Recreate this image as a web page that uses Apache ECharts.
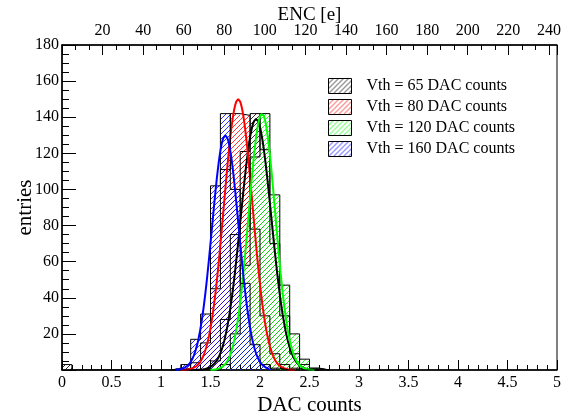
<!DOCTYPE html>
<html>
<head>
<meta charset="utf-8">
<script src="https://cdn.jsdelivr.net/npm/echarts@6/dist/echarts.min.js"></script>
<style>
  html, body { margin: 0; padding: 0; background: #fff; }
  #chart { width: 576px; height: 418px; }
</style>
</head>
<body>
<div id="chart"></div>
<script>
// histogram bins (left edges, width 0.1 DAC)
const binLo = [1.1, 1.2, 1.3, 1.4, 1.5, 1.6, 1.7, 1.8, 1.9, 2.0, 2.1, 2.2, 2.3, 2.4, 2.5, 2.6];
const binWidth = 0.1;

// entries per bin
const counts65 = [0, 0, 0, 1, 5, 28, 75, 121, 142, 122, 70, 30, 9, 3, 1, 0];
const counts80 = [0, 1, 4, 15, 45, 111, 142, 141, 78, 30, 9, 3, 1, 0, 0, 0];
const counts120 = [0, 0, 0, 0, 0, 3, 20, 58, 118, 142, 97, 47, 20, 6, 1, 0];
const counts160 = [1, 3, 17, 31, 102, 142, 100, 48, 14, 3, 1, 0, 0, 0, 0, 0];
// lone bin near zero in the Vth = 65 histogram
const extraBin65 = [0.0, 3];

// gaussian fits: amplitude, mean, sigma, drawn range
const names = ["Vth = 65 DAC counts", "Vth = 80 DAC counts", "Vth = 120 DAC counts", "Vth = 160 DAC counts"];
const colors = ["#000000", "#ff0000", "#00ff00", "#0000ff"];
const fitAmp = [139, 150, 142, 130];
const fitMean = [1.96, 1.78, 2.02, 1.65];
const fitSigma = [0.155, 0.145, 0.135, 0.135];
const fitLo = [1.3, 1.2, 1.5, 1.15];
const fitHi = [2.6, 2.35, 2.55, 2.1];

const yTicks = [0, 20, 40, 60, 80, 100, 120, 140, 160, 180];
const encMax = 244;

function hatch(color) {
  const s = 5;
  const c = document.createElement("canvas");
  c.width = s;
  c.height = s;
  const ctx = c.getContext("2d");
  ctx.strokeStyle = color;
  ctx.lineWidth = 0.8;
  ctx.beginPath();
  ctx.moveTo(0, s); ctx.lineTo(s, 0);
  ctx.moveTo(-1, 1); ctx.lineTo(1, -1);
  ctx.moveTo(s - 1, s + 1); ctx.lineTo(s + 1, s - 1);
  ctx.stroke();
  return { image: c, repeat: "repeat" };
}

function toBins(counts, extra) {
  const out = [];
  if (extra) out.push([extra[0], extra[0] + binWidth, extra[1]]);
  counts.forEach((v, i) => {
    out.push([binLo[i], +(binLo[i] + binWidth).toFixed(2), v]);
  });
  return out;
}

function outline(bins) {
  const pts = [[bins[0][0], 0]];
  bins.forEach((b, i) => {
    if (i > 0 && bins[i - 1][1] < b[0]) {
      pts.push([bins[i - 1][1], 0]);
      pts.push([b[0], 0]);
    }
    pts.push([b[0], b[2]]);
    pts.push([b[1], b[2]]);
  });
  pts.push([bins[bins.length - 1][1], 0]);
  return pts;
}

function fitCurve(k) {
  const pts = [];
  for (let x = fitLo[k]; x <= fitHi[k] + 1e-9; x += 0.005) {
    const d = (x - fitMean[k]) / fitSigma[k];
    pts.push([x, fitAmp[k] * Math.exp(-0.5 * d * d)]);
  }
  return pts;
}

const histBins = [toBins(counts65, extraBin65), toBins(counts80), toBins(counts120), toBins(counts160)];

const series = [];
histBins.forEach((bins, k) => {
  const pat = hatch(colors[k]);
  series.push({
    name: names[k],
    type: "custom",
    xAxisIndex: 0,
    yAxisIndex: 0,
    encode: { x: [0, 1], y: 2 },
    itemStyle: { color: pat, borderColor: "#000", borderWidth: 1 },
    renderItem: function (params, api) {
      const p0 = api.coord([api.value(0), api.value(2)]);
      const p1 = api.coord([api.value(1), 0]);
      return {
        type: "rect",
        shape: { x: p0[0], y: p0[1], width: p1[0] - p0[0], height: p1[1] - p0[1] },
        style: { fill: pat },
      };
    },
    data: bins,
    silent: true,
  });
  series.push({
    type: "line",
    data: outline(bins),
    showSymbol: false,
    symbol: "none",
    lineStyle: { color: "#000", width: 1 },
    silent: true,
  });
  series.push({
    type: "line",
    data: fitCurve(k),
    showSymbol: false,
    symbol: "none",
    smooth: false,
    lineStyle: { color: colors[k], width: 2 },
    silent: true,
  });
});

const font = "Liberation Serif";
const chart = echarts.init(document.getElementById("chart"));
chart.setOption({
  animation: false,
  textStyle: { fontFamily: font },
  grid: {
    left: 62, right: 19, top: 45, bottom: 48,
    outerBoundsMode: "none",
    show: true, borderColor: "#000", borderWidth: 1,
  },
  legend: {
    data: names,
    orient: "vertical",
    left: 328,
    top: 78,
    padding: 0,
    icon: "rect",
    itemWidth: 23,
    itemHeight: 15,
    itemGap: 5,
    itemStyle: { borderColor: "#000", borderWidth: 1 },
    textStyle: { fontFamily: font, fontSize: 16, color: "#000", padding: [0, 0, 0, 10] },
  },
  xAxis: [
    {
      type: "value",
      min: 0,
      max: 5,
      interval: 0.5,
      position: "bottom",
      name: "DAC counts",
      nameLocation: "middle",
      nameGap: 25,
      nameMoveOverlap: false,
      nameTextStyle: { fontFamily: font, fontSize: 21, color: "#000" },
      axisLine: { lineStyle: { color: "#000", width: 1.5 } },
      axisTick: { inside: true, length: 10, lineStyle: { color: "#000" } },
      minorTick: { show: true, splitNumber: 5, length: 5, lineStyle: { color: "#000" } },
      splitLine: { show: false },
      axisLabel: { fontFamily: font, fontSize: 16, color: "#000", margin: 5 },
    },
    {
      type: "value",
      min: 0,
      max: encMax,
      interval: 20,
      position: "top",
      name: "ENC [e]",
      nameLocation: "middle",
      nameGap: 20,
      nameMoveOverlap: false,
      nameTextStyle: { fontFamily: font, fontSize: 19, color: "#000" },
      axisLine: { lineStyle: { color: "#000", width: 1.5 } },
      axisTick: { inside: true, length: 10, lineStyle: { color: "#000" } },
      minorTick: { show: true, splitNumber: 3, length: 5, lineStyle: { color: "#000" } },
      splitLine: { show: false },
      axisLabel: {
        fontFamily: font,
        fontSize: 16,
        color: "#000",
        margin: 6,
        formatter: (v) => (v === 0 || v % 20 !== 0 ? "" : String(v)),
      },
    },
  ],
  yAxis: {
    type: "value",
    min: yTicks[0],
    max: yTicks[yTicks.length - 1],
    interval: 20,
    name: "entries",
    nameLocation: "middle",
    nameGap: 26,
    nameMoveOverlap: false,
    nameTextStyle: { fontFamily: font, fontSize: 21, color: "#000" },
    axisLine: { show: true, lineStyle: { color: "#000", width: 1.5 } },
    axisTick: { show: true, inside: true, length: 14, lineStyle: { color: "#000" } },
    minorTick: { show: true, splitNumber: 4, length: 7, lineStyle: { color: "#000" } },
    splitLine: { show: false },
    axisLabel: {
      fontFamily: font,
      fontSize: 16,
      color: "#000",
      margin: 3,
      formatter: (v) => (v === 0 ? "" : String(v)),
    },
  },
  series: series,
});
</script>
</body>
</html>
